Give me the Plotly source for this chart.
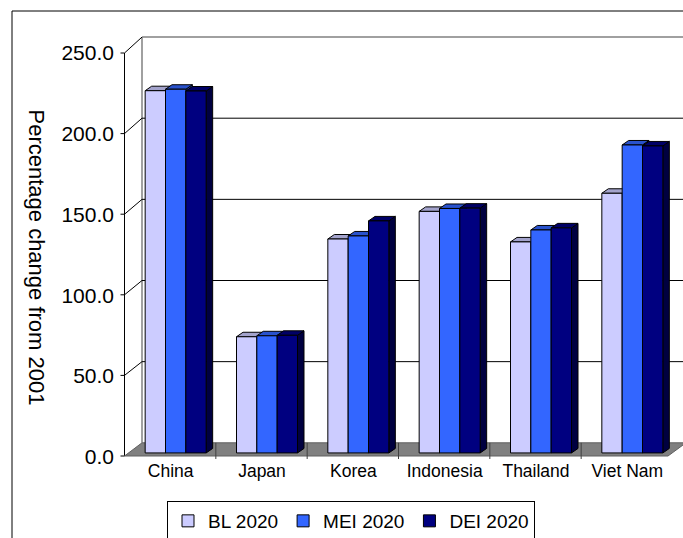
import plotly.graph_objects as go

# ---------------- data ----------------
categories = ["China", "Japan", "Korea", "Indonesia", "Thailand", "Viet Nam"]
bl_2020 = [224.2, 71.9, 132.4, 149.5, 130.6, 160.7]
mei_2020 = [225.1, 72.5, 134.3, 151.3, 138.0, 190.6]
dei_2020 = [224.0, 72.8, 143.6, 151.5, 139.3, 190.0]
series_names = ["BL 2020", "MEI 2020", "DEI 2020"]
y_ticks = [0, 50, 100, 150, 200, 250]
y_tick_labels = ["0.0", "50.0", "100.0", "150.0", "200.0", "250.0"]
y_title = "Percentage change from 2001"

# ---------------- styles ----------------
front_colors = ["#CCCCFF", "#3366FF", "#000080"]
top_colors = ["#A3A3CC", "#2952CC", "#000066"]
side_colors = ["#8F8FB3", "#2447B3", "#000040"]
FONT = "Liberation Sans, Arial, sans-serif"

W, H = 683, 538
L, R, T, B = 130, 5, 49, 82
PW, PH = W - L - R, H - T - B
YMIN, YMAX = -1.9, 250
PPU = PH / (YMAX - YMIN)          # pixels per data unit
NCAT = len(categories)
CAT_PX = PW / NCAT

def px_x(px):
    return (px - L) / PW

def px_y(py):
    return (H - B - py) / PH

def cat_to_paper(c):
    return (c + 0.5) / NCAT

# 3D geometry (pixels)
FRONT_X, BACK_X = 124.5, 142.0
def front_py(v):
    return 456.0 - 1.612 * v
def back_py(v):
    return 442.8 - 1.623 * v

group_w = 61 / CAT_PX
bar_w = group_w / 3
depth_dx = 6.5 / CAT_PX
depth_dy = 4.5 / PPU

series = [bl_2020, mei_2020, dei_2020]

fig = go.Figure()
for j, (name, vals) in enumerate(zip(series_names, series)):
    fig.add_trace(go.Bar(
        x=categories, y=vals, name=name,
        width=bar_w, offset=-group_w / 2 + j * bar_w,
        marker=dict(color=front_colors[j], line=dict(color="black", width=1)),
    ))

shapes = []
# outer chart border
shapes.append(dict(type="rect", xref="paper", yref="paper",
                   x0=px_x(12), x1=px_x(720), y0=px_y(11), y1=px_y(580),
                   line=dict(color="black", width=1), layer="below"))
# back wall edges
shapes.append(dict(type="line", xref="paper", yref="paper",
                   x0=px_x(BACK_X), x1=px_x(BACK_X), y0=px_y(back_py(0)), y1=px_y(back_py(250)),
                   line=dict(color="#808080", width=1.5), layer="below"))
shapes.append(dict(type="line", xref="paper", yref="paper",
                   x0=px_x(BACK_X), x1=px_x(720), y0=px_y(back_py(250)), y1=px_y(back_py(250)),
                   line=dict(color="#808080", width=1.5), layer="below"))
# gridlines on back wall + diagonal connectors + front ticks
for v in y_ticks:
    if 0 < v < 250:
        shapes.append(dict(type="line", xref="paper", yref="paper",
                           x0=px_x(BACK_X), x1=px_x(720), y0=px_y(back_py(v)), y1=px_y(back_py(v)),
                           line=dict(color="black", width=1), layer="below"))
    if v > 0:
        shapes.append(dict(type="line", xref="paper", yref="paper",
                           x0=px_x(FRONT_X), x1=px_x(BACK_X), y0=px_y(front_py(v)), y1=px_y(back_py(v)),
                           line=dict(color="black", width=1), layer="below"))
    shapes.append(dict(type="line", xref="paper", yref="paper",
                       x0=px_x(FRONT_X - 4), x1=px_x(FRONT_X), y0=px_y(front_py(v)), y1=px_y(front_py(v)),
                       line=dict(color="black", width=1), layer="below"))
# front axis line
shapes.append(dict(type="line", xref="paper", yref="paper",
                   x0=px_x(FRONT_X), x1=px_x(FRONT_X), y0=px_y(front_py(0)), y1=px_y(front_py(250)),
                   line=dict(color="black", width=1), layer="below"))
# floor
fx0, fx1 = FRONT_X, 668
floor_path = "M{},{} L{},{} L{},{} L{},{} Z".format(
    px_x(fx0), px_y(front_py(0)), px_x(fx1), px_y(front_py(0)),
    px_x(fx1 + 18), px_y(back_py(0)), px_x(BACK_X), px_y(back_py(0)))
shapes.append(dict(type="path", xref="paper", yref="paper", path=floor_path,
                   fillcolor="#808080", line=dict(color="#606060", width=1), layer="below"))
# category ticks on the floor
for k in range(1, NCAT):
    xb = FRONT_X + k * CAT_PX
    shapes.append(dict(type="line", xref="paper", yref="paper",
                       x0=px_x(xb), x1=px_x(xb), y0=px_y(back_py(0)), y1=px_y(front_py(0) + 3),
                       line=dict(color="#404040", width=1), layer="below"))
# 3D tops and sides of bars (derived from the series values)
for j, vals in enumerate(series):
    for i, v in enumerate(vals):
        xl = i - group_w / 2 + j * bar_w
        xr = xl + bar_w
        top = "M{},{} L{},{} L{},{} L{},{} Z".format(
            cat_to_paper(xl), v, cat_to_paper(xr), v,
            cat_to_paper(xr + depth_dx), v + depth_dy, cat_to_paper(xl + depth_dx), v + depth_dy)
        side = "M{},{} L{},{} L{},{} L{},{} Z".format(
            cat_to_paper(xr), 0, cat_to_paper(xr), v,
            cat_to_paper(xr + depth_dx), v + depth_dy, cat_to_paper(xr + depth_dx), depth_dy)
        shapes.append(dict(type="path", xref="paper", yref="y", path=side,
                           fillcolor=side_colors[j], line=dict(color="black", width=1), layer="below"))
        shapes.append(dict(type="path", xref="paper", yref="y", path=top,
                           fillcolor=top_colors[j], line=dict(color="black", width=1), layer="below"))

fig.update_layout(
    width=W, height=H,
    margin=dict(l=L, r=R, t=T, b=B, pad=0, autoexpand=False),
    paper_bgcolor="white", plot_bgcolor="rgba(0,0,0,0)",
    font=dict(family=FONT, color="black"),
    barmode="overlay",
    shapes=shapes,
    showlegend=True,
    legend=dict(orientation="h", x=px_x(167), y=px_y(501), xanchor="left", yanchor="top",
                bordercolor="black", borderwidth=1, bgcolor="white",
                font=dict(size=19, family=FONT, color="black"), traceorder="normal"),
    xaxis=dict(range=[-0.5, NCAT - 0.5], showgrid=False, zeroline=False, showline=False,
               ticks="", tickfont=dict(size=17.5, family=FONT, color="black"),
               ticklabelshift=-5, ticklabelstandoff=2, automargin=False),
    yaxis=dict(range=[YMIN, YMAX], showgrid=False, zeroline=False, showline=False,
               ticks="", tickvals=y_ticks, ticktext=y_tick_labels,
               tickfont=dict(size=21, family=FONT, color="black"),
               ticklabelshift=4, ticklabelstandoff=15, automargin=False),
    annotations=[dict(text=y_title, textangle=90, xref="paper", yref="paper",
                      x=px_x(36), y=px_y(257.5), xanchor="center", yanchor="middle",
                      showarrow=False, font=dict(size=22, family=FONT, color="black"))],
)

fig.write_html("out.html")
